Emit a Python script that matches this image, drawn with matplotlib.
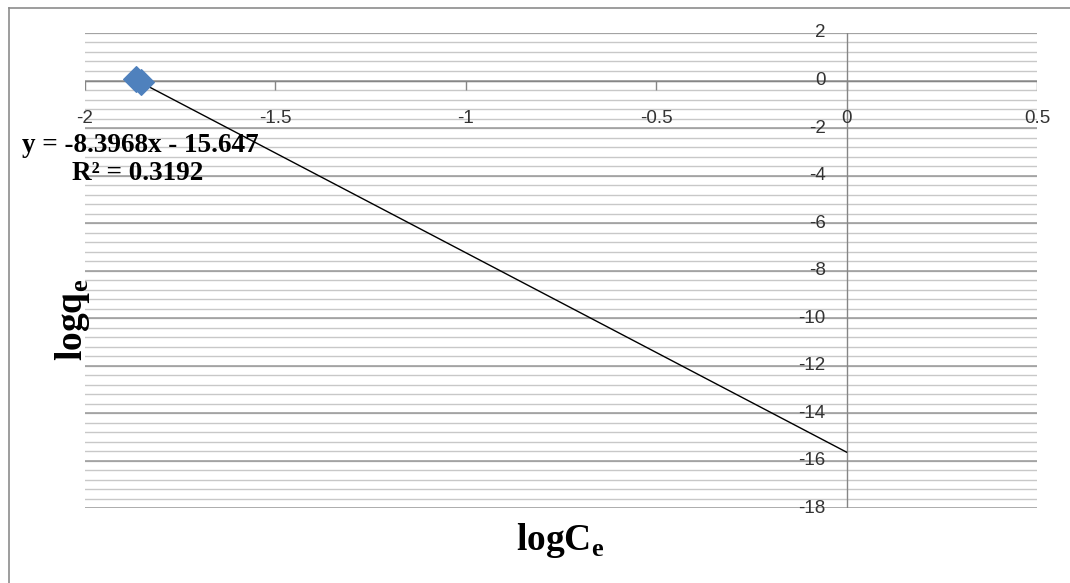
import numpy as np
import matplotlib.pyplot as plt
from matplotlib.lines import Line2D

# data
log_ce = [-1.865, -1.852]
log_qe = [0.05, -0.08]

# linear trendline as printed on the chart
slope = -8.3968
intercept = -15.647
r2 = 0.3192
trend_end = 0.0

x_ticks = [-2, -1.5, -1, -0.5, 0, 0.5]
x_tick_labels = ['-2', '-1.5', '-1', '-0.5', '0', '0.5']
y_ticks = [2, 0, -2, -4, -6, -8, -10, -12, -14, -16, -18]
y_tick_labels = ['2', '0', '-2', '-4', '-6', '-8', '-10', '-12', '-14', '-16', '-18']

plt.rcParams['mathtext.fontset'] = 'custom'
plt.rcParams['mathtext.bf'] = 'Liberation Serif:bold'
plt.rcParams['mathtext.rm'] = 'Liberation Serif'

fig = plt.figure(figsize=(10.7, 5.83), dpi=100)
ax = fig.add_axes([0.0794, 0.1286, 0.8897, 0.8148])
ax.set_xlim(-2, 0.5)
ax.set_ylim(-18, 2)

# gridlines: minor every 0.4, major every 2
for yv in np.arange(-18, 2.01, 0.4):
    ax.axhline(yv, color='#c8c8c8', lw=1.0, zorder=1)
for yv in y_ticks:
    ax.axhline(yv, color='#999999', lw=1.1, zorder=1)

# axes crossing at zero
ax.axhline(0, color='#868686', lw=1.0, zorder=2)
ax.axvline(0, color='#868686', lw=1.0, zorder=2)
ax.vlines(x_ticks, -0.38, 0, color='#868686', lw=1.0, zorder=2)

for s in ax.spines.values():
    s.set_visible(False)
ax.set_xticks([])
ax.set_yticks([])

for xv, lab in zip(x_ticks, x_tick_labels):
    ax.text(xv, -1.6, lab, ha='center', va='center', fontsize=13.5,
            color='#333333', family='Liberation Sans')
for yv, lab in zip(y_ticks, y_tick_labels):
    ax.text(-0.055, yv, lab, ha='right', va='center', fontsize=13.5,
            color='#333333', family='Liberation Sans')

# trendline and data
tx = np.array([min(log_ce), trend_end])
ax.plot(tx, slope * tx + intercept, color='black', lw=1.0, zorder=3)
ax.scatter(log_ce, log_qe, marker='D', s=170, color='#4f81bd', zorder=4,
           edgecolors='#4f81bd')

# equation text
fig.text(140 / 1070, 1 - 145 / 583, 'y = -8.3968x - 15.647', ha='center', va='center',
         fontsize=19.5, fontweight='bold', family='Liberation Serif')
fig.text(138 / 1070, 1 - 174 / 583, 'R² = %.4f' % r2, ha='center', va='center',
         fontsize=19.5, fontweight='bold', family='Liberation Serif')

# axis titles
fig.text(560 / 1070, 1 - 540 / 583, r'$\mathbf{logC}_{\mathbf{e}}$', ha='center',
         va='center', fontsize=27)
fig.text(72 / 1070, 1 - 320 / 583, r'$\mathbf{logq}_{\mathbf{e}}$', ha='center',
         va='center', fontsize=27, rotation=90)

# chart border (left and top visible)
fig.add_artist(Line2D([9 / 1070, 9 / 1070], [0, 1 - 8 / 583], color='#8c8c8c', lw=1.2))
fig.add_artist(Line2D([9 / 1070, 1], [1 - 8 / 583, 1 - 8 / 583], color='#8c8c8c', lw=1.2))

fig.savefig('out.png', dpi=100)
